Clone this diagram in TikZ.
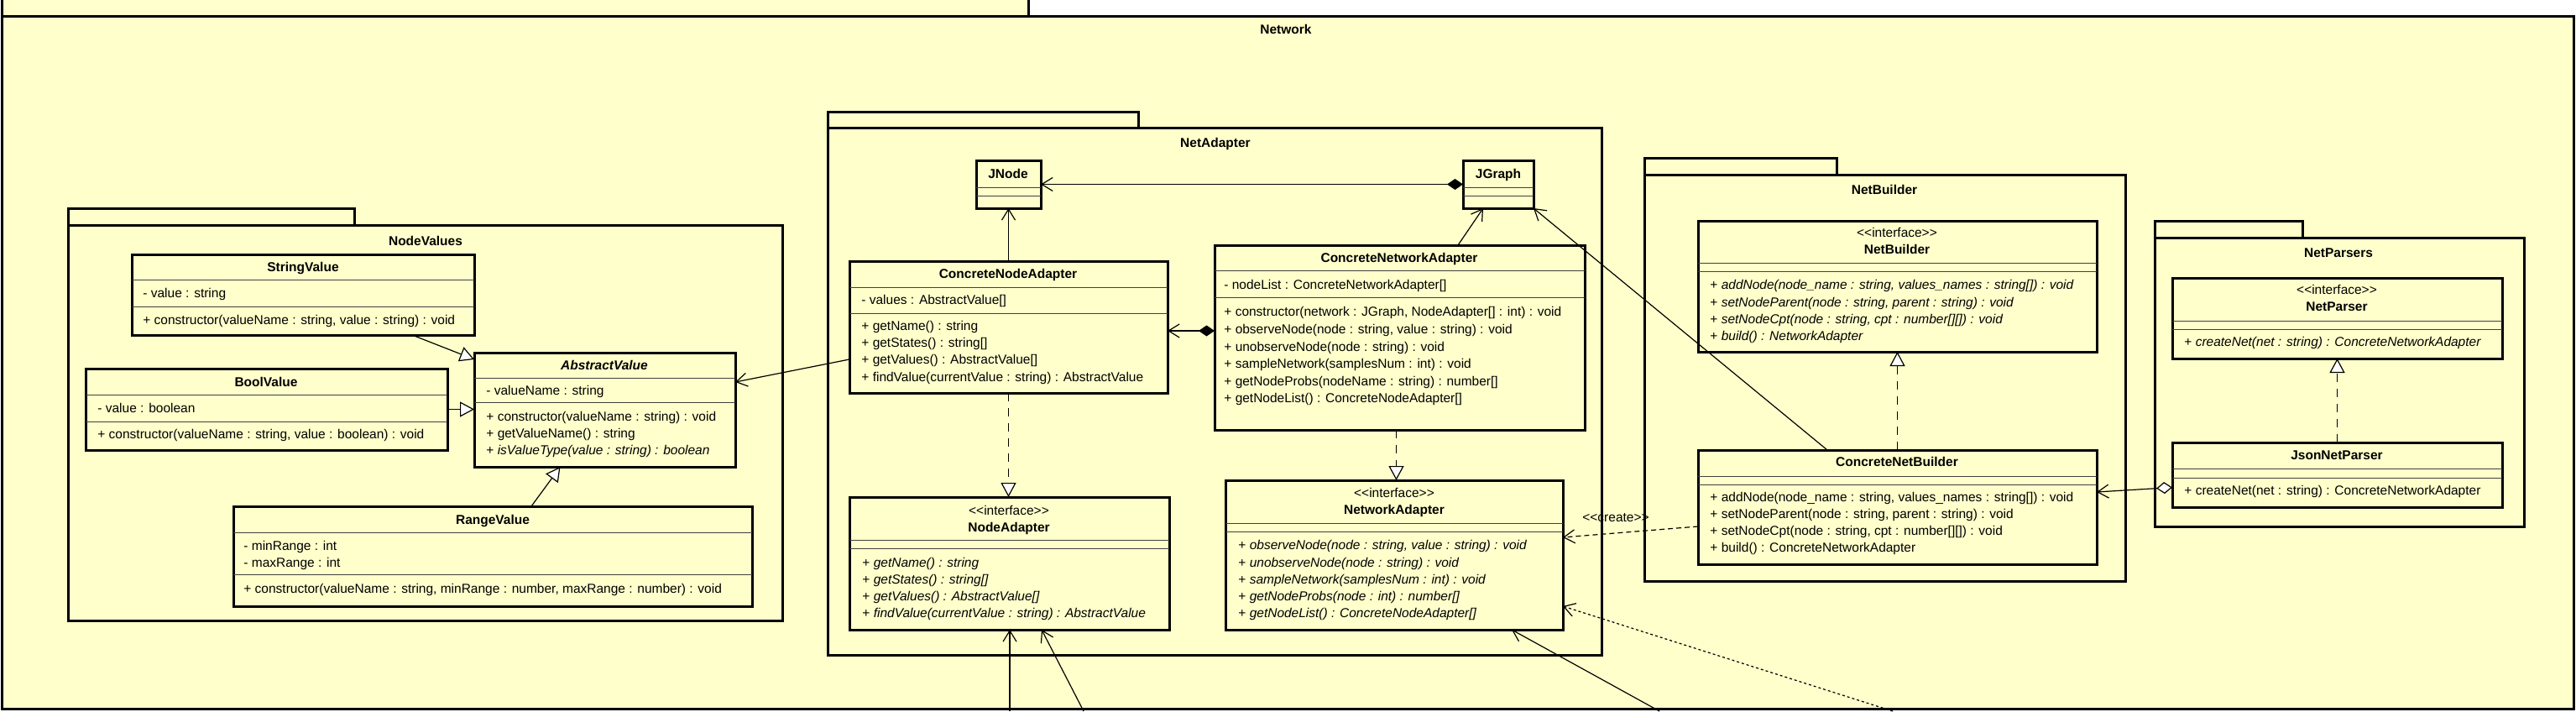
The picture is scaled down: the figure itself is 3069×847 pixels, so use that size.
\documentclass[tikz,border=0pt]{standalone}
\usepackage{fontspec}
\setmainfont{Liberation Sans}
\usetikzlibrary{arrows.meta,calc}
\definecolor{umlbg}{RGB}{255,255,204}
\newcommand\umlbox[5]{\node[classbox, anchor=north west, minimum width={(#4-#2)*0.5pt}, minimum height={(#5-#3)*0.5pt}] (#1) at (#2,#3) {};}
\newcommand\umlsep[3]{\draw[sepl] (#1,#3) -- (#2,#3);}
\newcommand\umltext[4]{\node[txt] (#1) at (#2,#3) {#4};}
\newcommand\umltitle[4]{\node[ttl] (#1) at (#2,#3) {#4};}
\newcommand\umlster[3]{\node[ster] (#1) at (#2,#3) {<{}<interface>{}>};}
\begin{document}
\begin{tikzpicture}[x=0.5pt,y=-0.5pt,
  font=\fontsize{7.75}{10}\selectfont,
  pkg/.style={draw, line width=1.5pt, fill=umlbg},
  classbox/.style={draw, rectangle, line width=1.5pt, fill=umlbg, inner sep=0pt, outer sep=0pt},
  sepl/.style={line width=0.5pt, draw=black!75},
  txt/.style={inner sep=0pt, anchor=west, text height=5.6pt, text depth=1.6pt},
  ttl/.style={inner sep=0pt, font=\fontsize{7.75}{10}\selectfont\bfseries, text height=5.6pt, text depth=1.6pt},
  ster/.style={inner sep=0pt, text height=5.6pt, text depth=1.6pt},
  conn/.style={line width=0.6pt},
  assoc/.style={conn, -{Straight Barb[length=6.5pt,width=8pt]}},
  gen/.style={conn, -{Triangle[length=8.5pt,width=9pt,fill=white]}},
  real/.style={gen, dash pattern=on 5pt off 4pt},
  comp/.style={conn, {Diamond[length=9.5pt,width=6.5pt]}-{Straight Barb[length=6.5pt,width=8pt]}},
  aggr/.style={conn, {Diamond[length=9.5pt,width=7pt,fill=white]}-{Straight Barb[length=6.5pt,width=8pt]}},
  dep/.style={conn, dash pattern=on 3pt off 2pt, -{Straight Barb[length=6.5pt,width=8pt]}},
  dotdep/.style={conn, dash pattern=on 1.5pt off 1.5pt, -{Straight Barb[length=6.5pt,width=8pt]}}
]
\useasboundingbox (0,0) rectangle (3069,847);
\fill[white] (0,0) rectangle (3069,847);
% Network package
\draw[pkg] (2,-20) rectangle (1225,19);
\draw[pkg] (2,19) rectangle (3066,844);
\node[ttl] (lblNetwork) at (1532,36) {Network};

% NodeValues package
\draw[pkg] (81,248) rectangle (422,268);
\draw[pkg] (81,268) rectangle (932,739);
\node[ttl] (lblNodeValues) at (507,288) {NodeValues};

% NetAdapter package
\draw[pkg] (986,133) rectangle (1356,152);
\draw[pkg] (986,152) rectangle (1908,780);
\node[ttl] (lblNetAdapter) at (1448,171) {NetAdapter};

% NetBuilder package
\draw[pkg] (1959,188) rectangle (2188,208);
\draw[pkg] (1959,208) rectangle (2532,692);
\node[ttl] (lblNetBuilder) at (2245,227) {NetBuilder};

% NetParsers package
\draw[pkg] (2567,263) rectangle (2743,283);
\draw[pkg] (2567,283) rectangle (3007,627);
\node[ttl] (lblNetParsers) at (2786,302) {NetParsers};

% StringValue
\umlbox{SV}{157}{303}{565}{399}
\umlsep{157}{565}{333}\umlsep{157}{565}{365}
\umltitle{SVt}{361}{319}{StringValue}
\umltext{SVa}{170}{350}{- value : string}
\umltext{SVm}{170}{382}{+ constructor(valueName : string, value : string) : void}

% BoolValue
\umlbox{BV}{102}{439}{533}{536}
\umlsep{102}{533}{470}\umlsep{102}{533}{502}
\umltitle{BVt}{317}{456}{BoolValue}
\umltext{BVa}{116}{487}{- value : boolean}
\umltext{BVm}{116}{518}{+ constructor(valueName : string, value : boolean) : void}

% AbstractValue
\umlbox{AV}{565}{420}{876}{556}
\umlsep{565}{876}{450}\umlsep{565}{876}{479}
\umltitle{AVt}{720}{436}{\textit{AbstractValue}}
\umltext{AVa}{579}{466}{- valueName : string}
\umltext{AVm1}{579}{497}{+ constructor(valueName : string) : void}
\umltext{AVm2}{579}{517}{+ getValueName() : string}
\umltext{AVm3}{579}{537}{+ \textit{isValueType(value : string) : boolean}}

% RangeValue
\umlbox{RV}{278}{603}{896}{722}
\umlsep{278}{896}{634}\umlsep{278}{896}{684}
\umltitle{RVt}{587}{620}{RangeValue}
\umltext{RVa1}{290}{651}{- minRange : int}
\umltext{RVa2}{290}{671}{- maxRange : int}
\umltext{RVm}{290}{702}{+ constructor(valueName : string, minRange : number, maxRange : number) : void}

% JNode
\umlbox{JNode}{1163}{191}{1240}{248}
\umlsep{1163}{1240}{223}\umlsep{1163}{1240}{233}
\umltitle{JNodet}{1201}{208}{JNode}

% JGraph
\umlbox{JGraph}{1743}{191}{1827}{248}
\umlsep{1743}{1827}{223}\umlsep{1743}{1827}{233}
\umltitle{JGrapht}{1785}{208}{JGraph}

% ConcreteNodeAdapter
\umlbox{CNA}{1012}{311}{1391}{468}
\umlsep{1012}{1391}{342}\umlsep{1012}{1391}{373}
\umltitle{CNAt}{1201}{327}{ConcreteNodeAdapter}
\umltext{CNAa}{1026}{358}{- values : AbstractValue[]}
\umltext{CNAm1}{1026}{389}{+ getName() : string}
\umltext{CNAm2}{1026}{409}{+ getStates() : string[]}
\umltext{CNAm3}{1026}{429}{+ getValues() : AbstractValue[]}
\umltext{CNAm4}{1026}{450}{+ findValue(currentValue : string) : AbstractValue}

% ConcreteNetworkAdapter
\umlbox{CNetA}{1447}{292}{1888}{512}
\umlsep{1447}{1888}{322}\umlsep{1447}{1888}{354}
\umltitle{CNetAt}{1667}{308}{ConcreteNetworkAdapter}
\umltext{CNetAa}{1458}{340}{- nodeList : ConcreteNetworkAdapter[]}
\umltext{CNetAm1}{1458}{372}{+ constructor(network : JGraph, NodeAdapter[] : int) : void}
\umltext{CNetAm2}{1458}{393}{+ observeNode(node : string, value : string) : void}
\umltext{CNetAm3}{1458}{414}{+ unobserveNode(node : string) : void}
\umltext{CNetAm4}{1458}{434}{+ sampleNetwork(samplesNum : int) : void}
\umltext{CNetAm5}{1458}{455}{+ getNodeProbs(nodeName : string) : number[]}
\umltext{CNetAm6}{1458}{475}{+ getNodeList() : ConcreteNodeAdapter[]}

% NodeAdapter
\umlbox{NA}{1012}{592}{1393}{750}
\umlsep{1012}{1393}{643}\umlsep{1012}{1393}{653}
\umlster{NAs}{1202}{609}
\umltitle{NAt}{1202}{629}{NodeAdapter}
\umltext{NAm1}{1027}{671}{+ \textit{getName() : string}}
\umltext{NAm2}{1027}{691}{+ \textit{getStates() : string[]}}
\umltext{NAm3}{1027}{711}{+ \textit{getValues() : AbstractValue[]}}
\umltext{NAm4}{1027}{731}{+ \textit{findValue(currentValue : string) : AbstractValue}}

% NetworkAdapter
\umlbox{NetA}{1460}{572}{1862}{750}
\umlsep{1460}{1862}{623}\umlsep{1460}{1862}{633}
\umlster{NetAs}{1661}{588}
\umltitle{NetAt}{1661}{608}{NetworkAdapter}
\umltext{NetAm1}{1475}{650}{+ \textit{observeNode(node : string, value : string) : void}}
\umltext{NetAm2}{1475}{671}{+ \textit{unobserveNode(node : string) : void}}
\umltext{NetAm3}{1475}{691}{+ \textit{sampleNetwork(samplesNum : int) : void}}
\umltext{NetAm4}{1475}{711}{+ \textit{getNodeProbs(node : int) : number[]}}
\umltext{NetAm5}{1475}{731}{+ \textit{getNodeList() : ConcreteNodeAdapter[]}}

% NetBuilder interface
\umlbox{NB}{2023}{263}{2498}{419}
\umlsep{2023}{2498}{313}\umlsep{2023}{2498}{323}
\umlster{NBs}{2260}{278}
\umltitle{NBt}{2260}{298}{NetBuilder}
\umltext{NBm1}{2037}{340}{+ \textit{addNode(node\_name : string, values\_names : string[]) : void}}
\umltext{NBm2}{2037}{361}{+ \textit{setNodeParent(node : string, parent : string) : void}}
\umltext{NBm3}{2037}{381}{+ \textit{setNodeCpt(node : string, cpt : number[][]) : void}}
\umltext{NBm4}{2037}{401}{+ \textit{build() : NetworkAdapter}}

% ConcreteNetBuilder
\umlbox{CNB}{2023}{536}{2498}{672}
\umlsep{2023}{2498}{567}\umlsep{2023}{2498}{577}
\umltitle{CNBt}{2260}{551}{ConcreteNetBuilder}
\umltext{CNBm1}{2037}{593}{+ addNode(node\_name : string, values\_names : string[]) : void}
\umltext{CNBm2}{2037}{613}{+ setNodeParent(node : string, parent : string) : void}
\umltext{CNBm3}{2037}{633}{+ setNodeCpt(node : string, cpt : number[][]) : void}
\umltext{CNBm4}{2037}{653}{+ build() : ConcreteNetworkAdapter}

% NetParser interface
\umlbox{NP}{2588}{331}{2981}{427}
\umlsep{2588}{2981}{382}\umlsep{2588}{2981}{392}
\umlster{NPs}{2784}{346}
\umltitle{NPt}{2784}{366}{NetParser}
\umltext{NPm}{2602}{408}{+ \textit{createNet(net : string) : ConcreteNetworkAdapter}}

% JsonNetParser
\umlbox{JNP}{2588}{527}{2981}{604}
\umlsep{2588}{2981}{558}\umlsep{2588}{2981}{569}
\umltitle{JNPt}{2784}{543}{JsonNetParser}
\umltext{JNPm}{2602}{585}{+ createNet(net : string) : ConcreteNetworkAdapter}

% external connector ends
\coordinate (ext1) at (1203,847);
\coordinate (ext2) at (1291,847);
\coordinate (ext3) at (1977,847);
\coordinate (ext4) at (2255,847);

% connectors
\draw[gen] ($(SV.south west)+(334,0)$) -- ($(AV.north west)+(0,8)$);
\draw[gen] (BV.east) -- (BV.east -| AV.west);
\draw[gen] ($(RV.north)+(46,0)$) -- ($(AV.south)+(-53,0)$);
\draw[assoc] ($(CNA.west)+(0,38.5)$) -- ($(AV.east)+(0,-33)$);
\draw[assoc] (CNA.north) -- (JNode.south);
\draw[comp] (JGraph.west) -- (JNode.east);
\draw[assoc] ($(CNetA.north)+(69.5,0)$) -- ($(JGraph.south)+(-18,0)$);
\draw[assoc] ($(CNB.north)+(-83.5,0)$) -- (JGraph.south east);
\draw[comp] ($(CNetA.west)+(0,-8)$) -- ($(CNA.east)+(0,4.5)$);
\draw[real] (CNA.south) -- (CNA.south |- NA.north);
\draw[real] ($(CNetA.south)+(-4,0)$) -- ($(CNetA.south |- NetA.north)+(-4,0)$);
\draw[real] (CNB.north) -- (NB.south);
\draw[real] (JNP.north) -- (NP.south);
\draw[aggr] ($(JNP.west)+(0,15)$) -- ($(CNB.east)+(0,-18)$);
\draw[dep] ($(CNB.west)+(0,23)$) -- ($(NetA.east)+(0,-21)$);
\node[ster] (createlbl) at (1925,617) {<{}<create>{}>};
\draw[assoc] (ext1) -- (ext1 |- NA.south);
\draw[assoc] (ext2) -- ($(NA.south)+(38.5,0)$);
\draw[assoc] (ext3) -- ($(NetA.south)+(140,0)$);
\draw[dotdep] (ext4) -- ($(NetA.east)+(0,61)$);
\end{tikzpicture}
\end{document}
